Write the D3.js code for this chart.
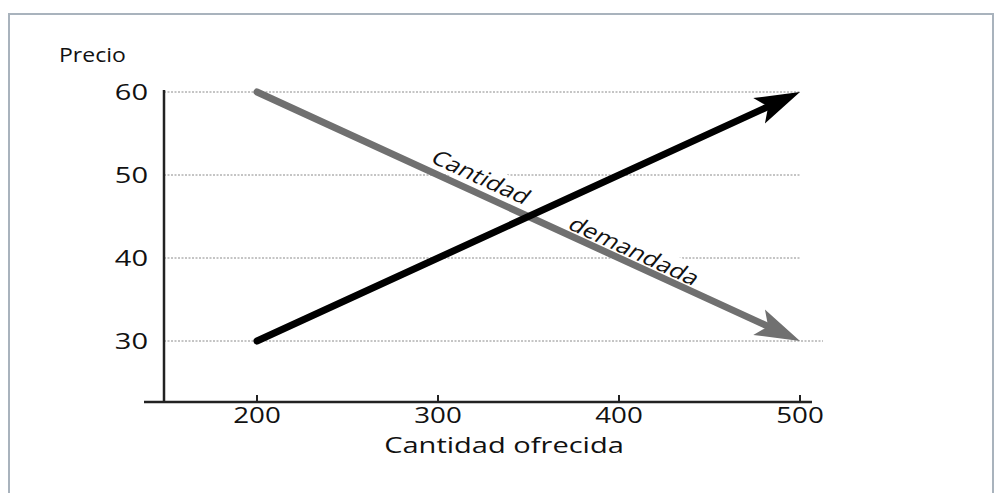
<!DOCTYPE html>
<html>
<head>
<meta charset="utf-8">
<script src="https://cdn.jsdelivr.net/npm/d3@7"></script>
<style>
  body { margin: 0; background: #fff; }
  text { font-family: "Open Sans", "Noto Sans", sans-serif; fill: #111; }
</style>
</head>
<body>
<svg id="chart"></svg>
<script>
// values
const xTicks = [200, 300, 400, 500];
const yTicks = [30, 40, 50, 60];
const supply = [[200, 30], [500, 60]];   // cantidad ofrecida
const demand = [[200, 60], [500, 30]];   // cantidad demandada
const demandLabels = [{ text: "Cantidad", q: 292, off: -8 }, { text: "demandada", q: 369, off: -5 }];

const width = 1001, height = 493;
const stretch = 1.32; // the original picture is squeezed wider than tall

const svg = d3.select("#chart").attr("width", width).attr("height", height);

// frame
svg.append("rect").attr("x", 9).attr("y", 14).attr("width", 984).attr("height", 500)
  .attr("fill", "none").attr("stroke", "#a9b3bd").attr("stroke-width", 2);

const x = d3.scaleLinear().domain([200, 500]).range([257, 800]);
const y = d3.scaleLinear().domain([30, 60]).range([341, 92]);
const axisX = 164, axisY = 402;

// dotted grid
svg.selectAll(".grid").data(yTicks).enter().append("line")
  .attr("x1", axisX).attr("x2", d => d === 30 ? x(500) + 23 : x(500))
  .attr("y1", d => y(d)).attr("y2", d => y(d))
  .attr("stroke", "#8a8a8a").attr("stroke-width", 1).attr("stroke-dasharray", "2,1.5");

// axes
svg.append("line").attr("x1", axisX).attr("x2", axisX).attr("y1", y(60) - 2).attr("y2", axisY)
  .attr("stroke", "#222").attr("stroke-width", 2.5);
svg.append("line").attr("x1", axisX - 20).attr("x2", x(500) + 12).attr("y1", axisY).attr("y2", axisY)
  .attr("stroke", "#222").attr("stroke-width", 2.5);

svg.selectAll(".xtick").data(xTicks).enter().append("line")
  .attr("x1", d => x(d)).attr("x2", d => x(d)).attr("y1", axisY).attr("y2", axisY - 7)
  .attr("stroke", "#222").attr("stroke-width", 2);

svg.selectAll(".xlab").data(xTicks).enter().append("text")
  .attr("transform", d => `translate(${x(d)},${axisY + 21}) scale(${stretch},1)`)
  .attr("text-anchor", "middle").style("font-size", "21px").text(d => d);

svg.selectAll(".ylab").data(yTicks).enter().append("text")
  .attr("transform", d => `translate(148,${y(d) + 8}) scale(${stretch},1)`)
  .attr("text-anchor", "end").style("font-size", "22px").text(d => d);

svg.append("text").attr("transform", `translate(59,62) scale(1.15,1)`)
  .style("font-size", "20px").text("Precio");
svg.append("text").attr("transform", `translate(504,453) scale(${stretch},1)`)
  .attr("text-anchor", "middle").style("font-size", "22px").text("Cantidad ofrecida");

// labels along the demand line, with white behind them to break the grid
const px = p => [x(p[0]), y(p[1])];
const dd = demand.map(px);
const rawAngle = Math.atan2((dd[1][1] - dd[0][1]), (dd[1][0] - dd[0][0]) / stretch) * 180 / Math.PI;
const labelG = svg.selectAll(".dlab").data(demandLabels).enter().append("g")
  .attr("transform", d => {
    const t = (d.q - 200) / 300;
    const lx = dd[0][0] + t * (dd[1][0] - dd[0][0]);
    const ly = dd[0][1] + t * (dd[1][1] - dd[0][1]);
    return `translate(${lx},${ly}) scale(${stretch},1) rotate(${rawAngle})`;
  });
labelG.append("rect").attr("fill", "#fff");
labelG.append("text").attr("y", d => d.off).style("font-size", "20px").text(d => d.text);
labelG.each(function () {
  const b = d3.select(this).select("text").node().getBBox();
  d3.select(this).select("rect").attr("x", b.x - 3).attr("y", b.y + 2)
    .attr("width", b.width + 6).attr("height", b.height - 4);
});

// arrows
function arrow(points, color) {
  const [a, b] = points.map(px);
  const ang = Math.atan2(b[1] - a[1], b[0] - a[0]);
  const ux = Math.cos(ang), uy = Math.sin(ang);
  const L = 45, W = 14, N = 35;
  svg.append("line").attr("x1", a[0]).attr("y1", a[1])
    .attr("x2", b[0] - ux * N).attr("y2", b[1] - uy * N)
    .attr("stroke", color).attr("stroke-width", 7).attr("stroke-linecap", "round");
  const head = [
    [b[0], b[1]],
    [b[0] - ux * L - uy * W, b[1] - uy * L + ux * W],
    [b[0] - ux * N, b[1] - uy * N],
    [b[0] - ux * L + uy * W, b[1] - uy * L - ux * W]
  ];
  svg.append("path").attr("d", d3.line()(head) + "Z").attr("fill", color);
}
arrow(demand, "#707070");
arrow(supply, "#000");
</script>
</body>
</html>
